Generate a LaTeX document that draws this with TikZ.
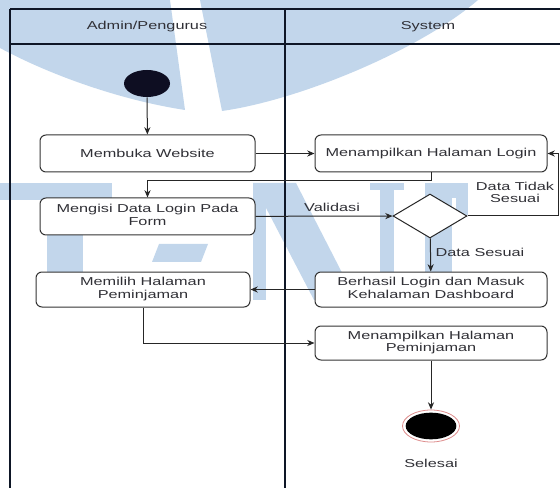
\documentclass[tikz,border=0pt]{standalone}
\usepackage{fontspec}
\setmainfont{Liberation Sans}
\usepackage{graphicx}
\usetikzlibrary{shapes.geometric,arrows.meta}

\definecolor{wm}{RGB}{194,214,235}
\definecolor{ink}{RGB}{48,48,54}
\definecolor{lane}{RGB}{14,22,38}
\definecolor{startc}{RGB}{14,14,34}
\definecolor{ring}{RGB}{222,140,140}

% labels are set wide, as in the drawing
\newcommand{\wide}[1]{\scalebox{1.42}[1]{#1}}
\newcommand{\two}[2]{\wide{\begin{tabular}{@{}c@{}}#1\\#2\end{tabular}}}

\begin{document}
\begin{tikzpicture}[x=0.75pt,y=-0.75pt,
  every node/.style={font=\fontsize{8.6}{9.6}\selectfont, text=ink},
  act/.style={draw=black!80, line width=0.75pt, fill=white,
              rounded corners=4.5pt, inner sep=0pt},
  flow/.style={draw=black!85, line width=0.75pt,
               -{Stealth[length=5.5pt,width=4.6pt]}},
  lanes/.style={draw=lane, line width=0.9pt}]

\useasboundingbox (0,0) rectangle (560,488);

% background mark
\fill[wm] (0,0) -- (170,0) -- (185,110) .. controls (120,100) and (50,75) .. (0,48) -- cycle;
\fill[wm] (200,0) -- (222,111) .. controls (300,100) and (420,50) .. (478,0) -- cycle;
\fill[wm] (0,183) rectangle (112,200);
\fill[wm] (104,183) rectangle (112,210);
\fill[wm] (47,183) rectangle (83,300);
\fill[wm] (159,244) -- (208,244) -- (201,262) -- (152,262) -- cycle;
\fill[wm] (253,183) rectangle (266,300);
\fill[wm] (253,183) -- (296,183) -- (356,300) -- (314,300) -- cycle;
\fill[wm] (380,183) rectangle (394,300);
\fill[wm] (370,183) rectangle (404,190);
\fill[wm] (425,183) rectangle (452,300);
\fill[wm] (425,183) rectangle (468,198);
\fill[wm] (456,183) rectangle (468,215);

% swimlanes
\draw[lanes] (10,9) -- (560,9);
\draw[lanes] (10,44) -- (560,44);
\draw[lanes] (10,9) -- (10,488);
\draw[lanes] (285,9) -- (285,488);
\node (hAdmin) at (147,27) {\wide{Admin/Pengurus}};
\node (hSys) at (428,27) {\wide{System}};

% activities
\node[ellipse, fill=startc, minimum width=34.5pt, minimum height=20.25pt, inner sep=0pt] (start) at (147,83.5) {};
\node[act, minimum width=161.25pt, minimum height=27.75pt] (web) at (147.5,153.5) {\wide{Membuka Website}};
\node[act, minimum width=174pt, minimum height=27.75pt] (login) at (431,153.5) {\wide{Menampilkan Halaman Login}};
\node[act, minimum width=161.25pt, minimum height=27.75pt] (isi) at (147.5,216.5) {\two{Mengisi Data Login Pada}{Form}};
\node[diamond, draw=black!85, fill=white, line width=0.75pt, minimum width=55.5pt, minimum height=33pt, inner sep=0pt] (cek) at (430,216) {};
\node[act, minimum width=160.5pt, minimum height=26.25pt] (pilih) at (143,289.5) {\two{Memilih Halaman}{Peminjaman}};
\node[act, minimum width=174pt, minimum height=26.25pt] (masuk) at (431,289.5) {\two{Berhasil Login dan Masuk}{Kehalaman Dashboard}};
\node[act, minimum width=174pt, minimum height=25.5pt] (tampil) at (431,343) {\two{Menampilkan Halaman}{Peminjaman}};
\node[ellipse, draw=ring, fill=white, line width=0.6pt, minimum width=42.75pt, minimum height=24pt, inner sep=0pt] (end) at (431,426) {};
\node[ellipse, fill=black, minimum width=38pt, minimum height=20pt, inner sep=0pt] (endcore) at (end.center) {};
\node (selesai) at (431,463) {\wide{Selesai}};

% flows
\coordinate (back) at (558,216);
\draw[flow] (start) -- (web);
\draw[flow] (web) -- (login);
\draw[flow] (login.south) -- ++(0,8) -| (isi.north);
\draw[flow] (isi) -- (cek);
\draw[flow] (cek.east) -- (back) |- (login.east);
\draw[flow] (cek) -- (masuk);
\draw[flow] (masuk) -- (pilih);
\draw[flow] (pilih.south) |- (tampil.west);
\draw[flow] (tampil) -- (end);

% guard labels
\node (gVal) at (332,207) {\wide{Validasi}};
\node (gNo) at (515,194) {\two{Data Tidak}{Sesuai}};
\node (gYes) at (480,252) {\wide{Data Sesuai}};
\end{tikzpicture}
\end{document}
